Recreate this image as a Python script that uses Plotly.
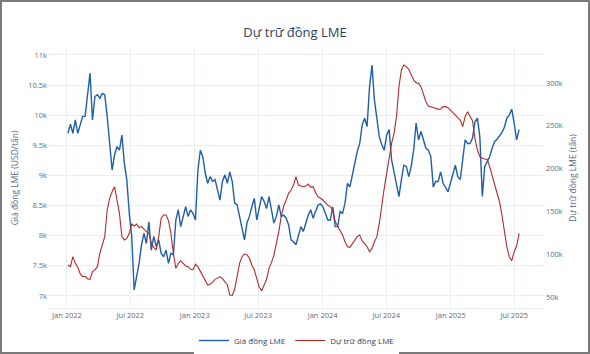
import pandas as pd
import plotly.graph_objects as go

title_text = "Dự trữ đồng LME"
price_name = "Giá đồng LME"
stock_name = "Dự trữ đồng LME"
left_title = "Giá đồng LME (USD/tấn)"
right_title = "Dự trữ đồng LME (tấn)"

start_date = "2022-01-04"

# LME copper price, USD/tonne (weekly readings)
price = [
    9700, 9850, 9700, 9920, 9700, 9840, 9980, 9980, 10310, 10700,
    9920, 10310, 10340, 10280, 10360, 10340, 9980, 9530, 9090, 9340,
    9480, 9420, 9670, 9200, 8930, 8370, 7990, 7100, 7320, 7540,
    7850, 8040, 7870, 8230, 7760, 7990, 7820, 7930, 7710, 7650,
    7760, 7540, 7710, 7680, 8260, 8430,
    8150, 8320, 8480, 8320, 8430, 8370, 8260, 9090, 9420, 9310,
    9040, 8870, 8980, 8900, 8930, 8760, 8590, 8900, 9010, 8870,
    9060, 8900, 8540, 8510, 8320, 8150, 7930, 8210, 8320, 8480,
    8620, 8260, 8430, 8650, 8570, 8450, 8650, 8430, 8210, 8320,
    8510, 8320, 8340, 8290, 8180, 7930, 7900,
    7850, 8010, 8150, 8070, 8230, 8340, 8430, 8290, 8400, 8510,
    8530, 8480, 8370, 8260, 8260, 8480, 8150, 8150, 8400, 8370,
    8540, 8870, 8810, 9010, 9230, 9400, 9530, 9840, 9950, 9810,
    10470, 10830, 10250, 9890, 9640, 9510, 9420, 9670, 9760, 9260,
    9040, 8810, 8650, 8930, 9170, 9150, 8980,
    9150, 9420, 9870, 9590, 9730, 9590, 9450, 9420, 9310, 8810,
    8900, 8900, 9060, 8870, 8810, 8730, 8870, 9010, 9170, 8980,
    8930, 9260, 9590, 9530, 9530, 9620, 9890, 9950, 9640, 8650,
    9150, 9230, 9310, 9450, 9560, 9600, 9660, 9710, 9800, 9950,
    10000, 10100, 9870, 9590, 9760,
]

# LME copper stocks, tonnes (weekly readings)
stocks = [
    87400, 85400, 97100, 89300, 84700, 76900, 73800, 74200, 71400, 70600,
    79600, 81600, 85400, 101000, 110800, 120500, 151600, 165300, 173000, 178900,
    163300, 147700, 120500, 116600, 118500, 124400, 135300, 133000, 135300, 131000,
    132200, 129100, 126300, 124400, 112700, 108000, 104900, 120500, 141900, 145800,
    145800, 139200, 124400, 101000, 83500, 89300,
    92400, 89300, 86200, 85400, 82300, 81600, 88200, 85400, 79600, 73800,
    67900, 64000, 65200, 67100, 70600, 72600, 73800, 71400, 67900, 64400,
    52300, 51900, 59000, 76900, 89300, 97100, 100200, 99400, 95200, 87400,
    81600, 71800, 61300, 57400, 63300, 70600, 83500, 90100, 99000, 110800,
    126300, 144600, 156300, 163300, 171100, 175000, 180800,
    190600, 180800, 179600, 178900, 179600, 182000, 178100, 178900, 171900, 167200,
    165300, 163300, 160200, 157100, 155600, 151600, 138000, 132200, 127500, 122400,
    114600, 108800, 108000, 112700, 116600, 120500, 122400, 115400, 112700, 108800,
    102900, 106800, 114600, 120500, 136100, 159400, 177000, 194500, 213900, 229500,
    241200, 260700, 295700, 315200, 321000, 319100, 316000,
    309300, 303500, 300400, 299600, 295700, 287900, 278200, 273100, 272400, 271600,
    270400, 269200, 269600, 272400, 272400, 271200, 268400, 265300, 262200, 259900,
    256800, 249000, 260700, 266500, 260700, 256000, 235400, 221700, 213900, 212000,
    211200, 210800, 202300, 192500, 183600, 173100, 161300, 145800, 124400, 108800,
    97100, 92400, 102900, 109600, 124400,
]

dates = pd.date_range(start_date, periods=len(price), freq="7D")

blue = "#1f5ea8"
red = "#b22a2a"
grid = "#e9edf4"
tick_color = "#5a6b85"

fig = go.Figure()
fig.add_trace(go.Scatter(x=dates, y=price, name=price_name, mode="lines",
                         line=dict(color=blue, width=1.4), yaxis="y"))
fig.add_trace(go.Scatter(x=dates, y=stocks, name=stock_name, mode="lines",
                         line=dict(color=red, width=1.1), yaxis="y2"))

fig.update_layout(
    width=590, height=354,
    margin=dict(l=48, r=45, t=48, b=46, autoexpand=False),
    paper_bgcolor="white", plot_bgcolor="white",
    font=dict(family="Open Sans", size=8, color=tick_color),
    title=dict(text=title_text, x=0.5, xanchor="center", y=0.907, yanchor="middle",
               font=dict(size=13, color="#2a3f5f")),
    showlegend=True,
    legend=dict(orientation="h", x=0.5, xanchor="center", y=-0.125, yanchor="middle",
                font=dict(size=8, color="#2a3f5f")),
    xaxis=dict(type="date", range=["2021-11-08", "2025-09-27"], dtick="M6",
               tick0="2022-01-01", tickformat="%b %Y", showgrid=True, gridcolor=grid,
               zeroline=False, showline=True, linecolor=grid, ticks="",
               tickfont=dict(size=7.5, color=tick_color), automargin=False),
    yaxis=dict(range=[6800, 11115], dtick=500, tick0=7000, showgrid=True, gridcolor=grid,
               zeroline=False, ticks="", tickfont=dict(size=7.5, color=tick_color),
               title=dict(text=left_title, font=dict(size=8.5, color=tick_color), standoff=8),
               automargin=False),
    yaxis2=dict(range=[37150, 340900], dtick=50000, tick0=50000, overlaying="y",
                side="right", showgrid=False, zeroline=False, ticks="",
                tickfont=dict(size=7.5, color=tick_color),
                title=dict(text=right_title, font=dict(size=8.5, color=tick_color), standoff=8),
                automargin=False),
    shapes=[dict(type="rect", xref="paper", yref="paper",
                 x0=-47 / 497, x1=1 + 44 / 497, y0=-45 / 260, y1=1 + 47 / 260,
                 line=dict(color="#7a7a7a", width=2), fillcolor="rgba(0,0,0,0)", layer="above")],
)

fig.write_html("out.html")
